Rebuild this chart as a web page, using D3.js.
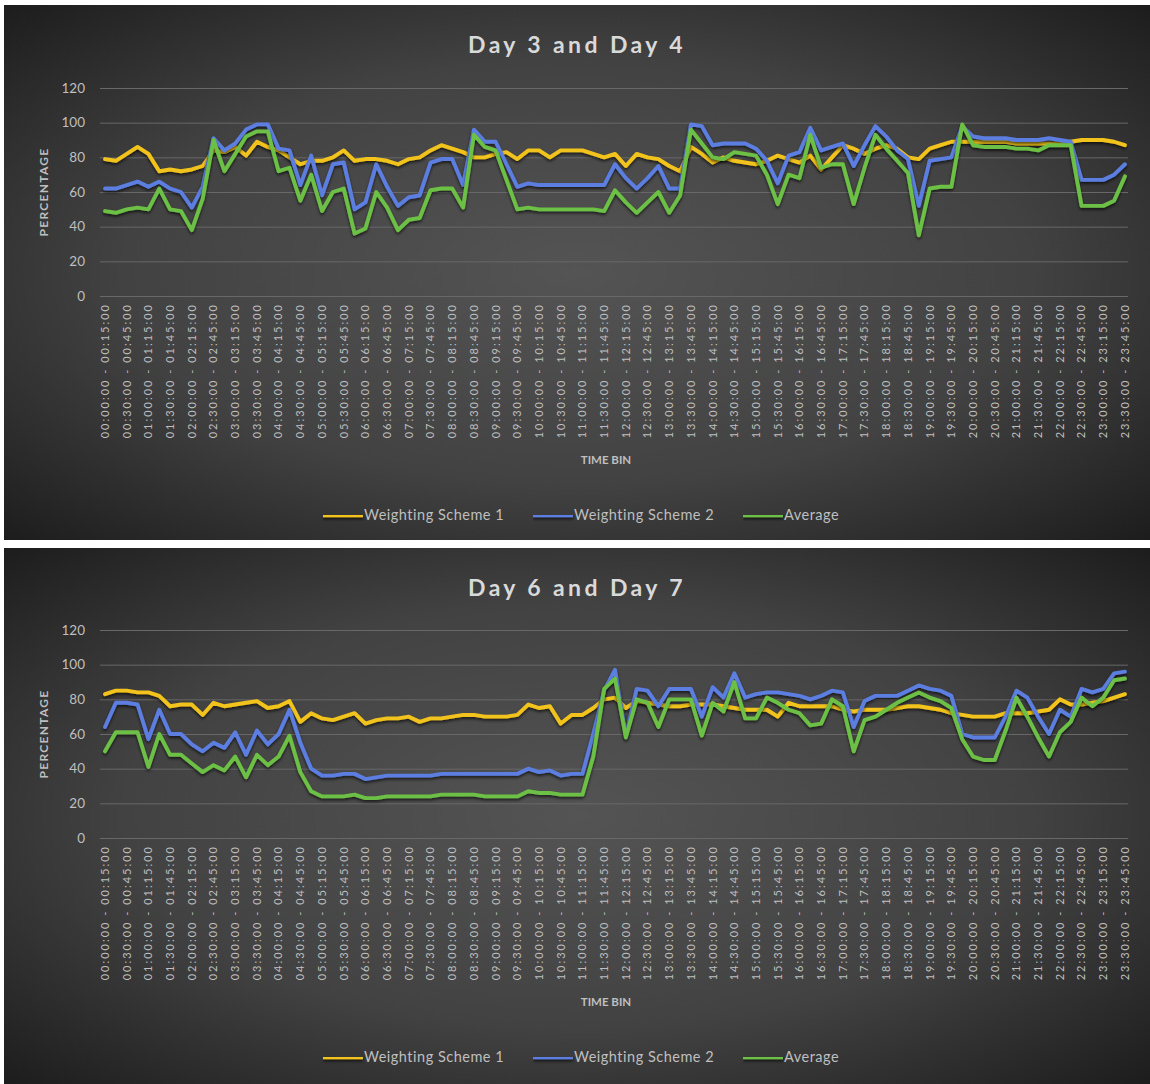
<!DOCTYPE html>
<html>
<head>
<meta charset="utf-8">
<script src="https://cdn.jsdelivr.net/npm/d3@7"></script>
<style>
  body { margin: 0; background: #ffffff; }
  svg { display: block; font-family: Lato, "Open Sans", sans-serif; }
</style>
</head>
<body>
<svg id="chart" width="1150" height="1084"></svg>
<script>
// 15-minute time bins from 00:00 to 23:45 (95 bins)
const timeBins = [];
for (let m = 0; m < 95 * 15; m += 15) {
  const fmt = t => String(Math.floor(t / 60)).padStart(2, "0") + ":" + String(t % 60).padStart(2, "0") + ":00";
  timeBins.push(fmt(m) + " - " + fmt(m + 15));
}

const yTicks = [0, 20, 40, 60, 80, 100, 120];
const seriesNames = ["Weighting Scheme 1", "Weighting Scheme 2", "Average"];
const seriesColors = ["#f2c31c", "#5b7ee0", "#6cc044"];

// Day 3 and Day 4
const day34Scheme1 = [
  79,78,82,86,82,72,73,72,73,75,
  84,83,86,81,89,86,84,80,76,78,
  78,80,84,78,79,79,78,76,79,80,
  84,87,85,83,80,80,82,83,79,84,
  84,80,84,84,84,82,80,82,75,82,
  80,79,75,72,86,82,77,80,78,77,
  76,78,81,79,77,81,73,80,87,85,
  82,85,87,85,80,79,85,87,89,89,
  89,89,89,89,88,88,88,88,88,89,
  90,90,90,89,87
];
const day34Scheme2 = [
  62,62,64,66,63,66,62,60,51,63,
  91,84,88,96,99,99,85,84,64,81,
  58,76,77,50,54,76,63,52,57,58,
  77,79,79,64,96,89,89,76,63,65,
  64,64,64,64,64,64,64,76,68,62,
  68,75,62,62,99,98,87,88,88,88,
  85,78,65,81,83,97,84,86,88,75,
  87,98,92,84,79,52,78,79,80,98,
  92,91,91,91,90,90,90,91,90,89,
  67,67,67,70,76
];
const day34Average = [
  49,48,50,51,50,62,50,49,38,56,
  90,72,82,92,95,95,72,74,55,70,
  49,60,62,36,39,60,51,38,44,45,
  61,62,62,51,93,86,84,67,50,51,
  50,50,50,50,50,50,49,61,54,48,
  54,60,48,58,96,88,80,79,83,82,
  81,70,53,70,68,93,74,76,76,53,
  74,93,85,78,71,35,62,63,63,99,
  87,86,86,86,85,85,84,87,87,87,
  52,52,52,55,69
];

// Day 6 and Day 7
const day67Scheme1 = [
  83,85,85,84,84,82,76,77,77,71,
  78,76,77,78,79,75,76,79,67,72,
  69,68,70,72,66,68,69,69,70,67,
  69,69,70,71,71,70,70,70,71,77,
  75,76,66,71,71,75,80,81,75,79,
  78,77,76,76,77,77,77,76,75,74,
  74,74,70,78,76,76,76,76,74,73,
  74,74,74,75,76,76,75,74,72,71,
  70,70,70,72,72,72,73,74,80,77,
  77,78,79,81,83
];
const day67Scheme2 = [
  64,78,78,77,57,74,60,60,54,50,
  55,52,61,48,62,54,60,74,55,40,
  36,36,37,37,34,35,36,36,36,36,
  36,37,37,37,37,37,37,37,37,40,
  38,39,36,37,37,60,85,97,59,86,
  85,76,86,86,86,70,87,81,95,81,
  83,84,84,83,82,80,82,85,84,64,
  79,82,82,82,85,88,86,85,82,60,
  58,58,58,70,85,81,70,60,74,70,
  86,84,86,95,96
];
const day67Average = [
  50,61,61,61,41,60,48,48,43,38,
  42,39,47,35,48,42,47,59,38,27,
  24,24,24,25,23,23,24,24,24,24,
  24,25,25,25,25,24,24,24,24,27,
  26,26,25,25,25,47,86,92,58,80,
  78,64,80,80,80,59,78,73,90,69,
  69,81,78,74,72,65,66,80,76,50,
  68,70,74,78,81,84,81,79,75,57,
  47,45,45,62,81,70,58,47,61,67,
  81,76,81,91,92
];

const svg = d3.select("#chart");
const defs = svg.append("defs");

// dark panel fill, lighter toward the middle
const bg = defs.append("radialGradient").attr("id", "panelBg")
  .attr("cx", "50%").attr("cy", "50%").attr("r", "72%");
bg.append("stop").attr("offset", "0%").attr("stop-color", "#545454");
bg.append("stop").attr("offset", "55%").attr("stop-color", "#424242");
bg.append("stop").attr("offset", "100%").attr("stop-color", "#1b1b1b");

// soft shadow under the series lines (user-space region so flat strokes keep it)
const shadow = defs.append("filter").attr("id", "lineShadow")
  .attr("filterUnits", "userSpaceOnUse")
  .attr("x", 0).attr("y", 0).attr("width", 1150).attr("height", 1084);
shadow.append("feDropShadow")
  .attr("dx", 0).attr("dy", 2).attr("stdDeviation", 1.6)
  .attr("flood-color", "#000").attr("flood-opacity", 0.65);

function drawPanel(p) {
  const g = svg.append("g");

  g.append("rect")
    .attr("x", p.left).attr("y", p.top)
    .attr("width", p.width).attr("height", p.height)
    .attr("fill", "url(#panelBg)");

  const x = d3.scaleBand().domain(timeBins).range([99.6, 1130.4]);
  const y = d3.scaleLinear().domain([0, 120]).range([p.plotBottom, p.plotTop]);
  const cx = i => x(timeBins[i]) + x.bandwidth() / 2;

  // title
  g.append("text")
    .attr("x", 577).attr("y", p.top + 48)
    .attr("text-anchor", "middle")
    .attr("fill", "#d9d9d9")
    .attr("font-size", 23).attr("font-weight", 700)
    .attr("letter-spacing", "3.4px")
    .text(p.title);

  // horizontal gridlines
  const yAxis = d3.axisLeft(y).tickValues(yTicks).tickSize(-1028).tickPadding(15);
  const ya = g.append("g").attr("transform", "translate(100,0)").call(yAxis);
  ya.select(".domain").remove();
  ya.selectAll(".tick line").attr("stroke", "#686868").attr("stroke-width", 1);
  ya.selectAll(".tick text")
    .attr("fill", "#bfbfbf").attr("font-size", 13.5)
    .attr("font-family", "Lato, sans-serif");

  // category labels, every other bin
  const xAxis = d3.axisBottom(x)
    .tickValues(timeBins.filter((d, i) => i % 2 === 0))
    .tickSize(0).tickPadding(0);
  const xa = g.append("g").attr("transform", `translate(0,${p.plotBottom})`).call(xAxis);
  xa.select(".domain").remove();
  xa.selectAll(".tick text")
    .attr("transform", "rotate(-90)")
    .attr("x", -7).attr("y", 0).attr("dy", "0.35em")
    .attr("text-anchor", "end")
    .attr("fill", "#bfbfbf").attr("font-size", 11)
    .attr("letter-spacing", "2px")
    .attr("font-family", "Lato, sans-serif");

  // axis titles
  g.append("text")
    .attr("transform", `translate(48,${(p.plotTop + p.plotBottom) / 2}) rotate(-90)`)
    .attr("text-anchor", "middle")
    .attr("fill", "#bfbfbf").attr("font-size", 12).attr("font-weight", 700)
    .attr("letter-spacing", "1.3px")
    .text("PERCENTAGE");
  g.append("text")
    .attr("x", 606).attr("y", p.timeTitleY)
    .attr("text-anchor", "middle")
    .attr("fill", "#bfbfbf").attr("font-size", 11.5).attr("font-weight", 700)
    .text("TIME BIN");

  // series lines
  const line = d3.line().x((d, i) => cx(i)).y(d => y(d));
  p.series.forEach((s, k) => {
    g.append("path")
      .datum(s)
      .attr("d", line)
      .attr("fill", "none")
      .attr("stroke", seriesColors[k])
      .attr("stroke-width", 3.9)
      .attr("stroke-linejoin", "round")
      .attr("stroke-linecap", "round")
      .attr("filter", "url(#lineShadow)");
  });

  // legend
  const legendX = [323, 533, 743];
  seriesNames.forEach((name, k) => {
    const lg = g.append("g").attr("transform", `translate(${legendX[k]},${p.legendY})`);
    lg.append("line")
      .attr("x1", 0).attr("x2", 40).attr("y1", 0).attr("y2", 0)
      .attr("stroke", seriesColors[k]).attr("stroke-width", 4.5)
      .attr("filter", "url(#lineShadow)");
    lg.append("text")
      .attr("x", 41).attr("y", 0).attr("dy", "0.35em")
      .attr("fill", "#bfbfbf").attr("font-size", 14.5)
      .attr("letter-spacing", "0.5px")
      .text(name);
  });
}

drawPanel({
  title: "Day 3 and Day 4",
  left: 4, top: 5, width: 1146, height: 535,
  plotTop: 88, plotBottom: 296,
  timeTitleY: 464, legendY: 515,
  series: [day34Scheme1, day34Scheme2, day34Average]
});

drawPanel({
  title: "Day 6 and Day 7",
  left: 4, top: 548, width: 1146, height: 536,
  plotTop: 630, plotBottom: 838,
  timeTitleY: 1006, legendY: 1057,
  series: [day67Scheme1, day67Scheme2, day67Average]
});
</script>
</body>
</html>
